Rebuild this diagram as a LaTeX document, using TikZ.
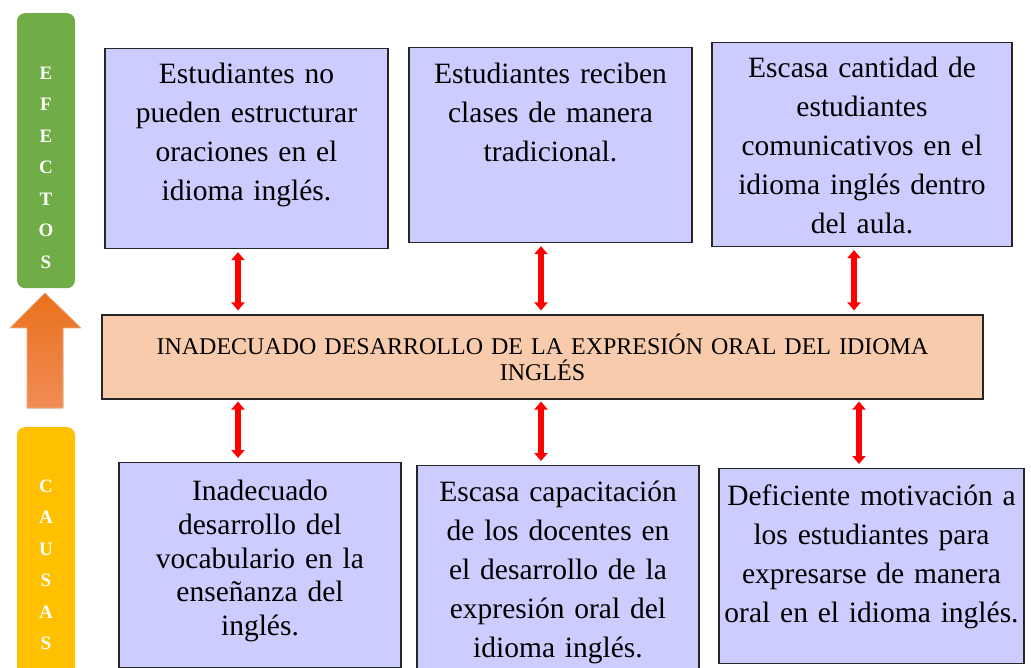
\documentclass[tikz,border=0pt]{standalone}
\usepackage{fontspec}
\setmainfont{Liberation Serif}
\usetikzlibrary{arrows.meta,calc}
\definecolor{cefe}{HTML}{CCCCFF}
\definecolor{cprob}{HTML}{F8CBAD}
\definecolor{cverde}{HTML}{70AD47}
\definecolor{camar}{HTML}{FFC000}
\definecolor{cnarA}{HTML}{E9711C}
\definecolor{cnarB}{HTML}{F08C55}
\definecolor{crojo}{HTML}{FF0000}
\tikzset{
  ncaja/.style={draw=black!85, fill=cefe, line width=1.1pt, anchor=north, inner sep=0pt,
               align=center, font=\fontsize{29.5}{39}\selectfont},
  nprob/.style={draw=black!85, fill=cprob, line width=1.1pt, inner sep=0pt,
               align=center, font=\fontsize{24}{26}\selectfont},
  nbarra/.style={rounded corners=8pt, anchor=north, inner sep=0pt, text=white, align=center,
               text width=58pt, font=\bfseries\fontsize{19}{31.5}\selectfont},
  flecha/.style={{Triangle[length=8pt,width=13pt]}-{Triangle[length=8pt,width=13pt]},
               line width=6.5pt, draw=crojo},
}
\begin{document}
\begin{tikzpicture}[x=1pt, y=-1pt]
  \useasboundingbox (0,0) rectangle (1031,668);
  \node[nbarra, fill=cverde, text height=66pt, text depth=209pt] (efectos) at (46,13)
    {E\\F\\E\\C\\T\\O\\S};
  \node[nbarra, fill=camar, text height=65pt, text depth=200pt] (causas) at (46,427)
    {C\\A\\U\\S\\A\\S};
  \fill[top color=cnarA, bottom color=cnarB, draw=cnarB!70!white, line width=0.6pt]
    (27,408) -- (27,328) -- (10,328) -- (45,293) -- (81,328) -- (63,328) -- (63,408) -- cycle;
  \node[ncaja, text width=283pt, text height=35pt, text depth=165pt] (ef1) at (246.5,48)
    {Estudiantes no\\pueden estructurar\\oraciones en el\\idioma inglés.};
  \node[ncaja, text width=283pt, text height=36pt, text depth=159pt] (ef2) at (550.5,47)
    {Estudiantes reciben\\clases de manera\\tradicional.};
  \node[ncaja, text width=300pt, text height=35pt, text depth=169pt] (ef3) at (862,42)
    {Escasa cantidad de\\estudiantes\\comunicativos en el\\idioma inglés dentro\\del aula.};
  \node[nprob, minimum width=881pt, minimum height=84pt, text width=860pt] (prob) at (542.5,357)
    {INADECUADO DESARROLLO DE LA EXPRESIÓN ORAL DEL IDIOMA\\INGLÉS};
  \node[ncaja, text width=282pt, text height=38pt, text depth=167pt,
        font=\fontsize{29.5}{33.75}\selectfont] (ca1) at (260,462)
    {Inadecuado\\desarrollo del\\vocabulario en la\\enseñanza del\\inglés.};
  \node[ncaja, text width=282pt, text height=36pt, text depth=174pt] (ca2) at (558,465)
    {Escasa capacitación\\de los docentes en\\el desarrollo de la\\expresión oral del\\idioma inglés.};
  \node[ncaja, text width=305pt, text height=37pt, text depth=158pt] (ca3) at (871.5,468)
    {Deficiente motivación a\\los estudiantes para\\expresarse de manera\\oral en el idioma inglés.};
  \foreach \caja/\dx in {ef1/-8.5, ef2/-9.5, ef3/-8}
    \draw[flecha, shorten <=3pt, shorten >=4pt]
      ([xshift=\dx pt]\caja.south) -- ([xshift=\dx pt]\caja.south |- prob.north);
  \foreach \caja/\dx in {ca1/-22, ca2/-17, ca3/-12.5}
    \draw[flecha, shorten <=2pt, shorten >=4pt]
      ([xshift=\dx pt]\caja.north |- prob.south) -- ([xshift=\dx pt]\caja.north);
\end{tikzpicture}
\end{document}
